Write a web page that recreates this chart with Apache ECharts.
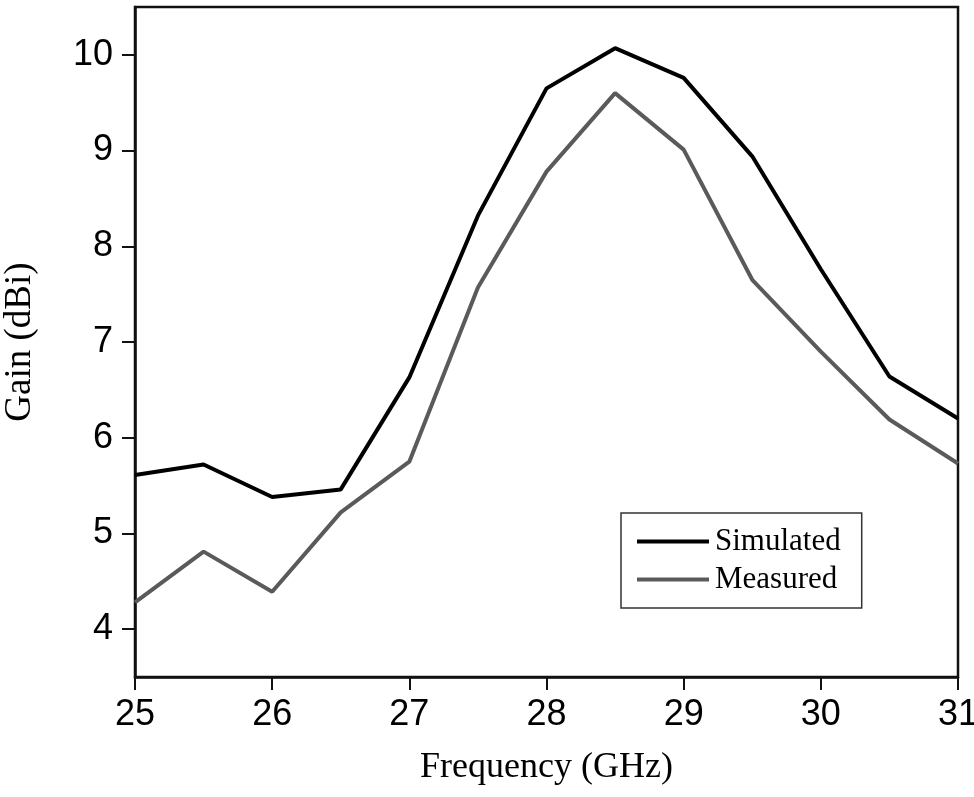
<!DOCTYPE html>
<html>
<head>
<meta charset="utf-8">
<script src="https://cdn.jsdelivr.net/npm/echarts@6/dist/echarts.min.js"></script>
<style>html,body{margin:0;padding:0;background:#fff;}#c{width:974px;height:797px;}</style>
</head>
<body>
<div id="c"></div>
<script>
const frequency = [25, 25.5, 26, 26.5, 27, 27.5, 28, 28.5, 29, 29.5, 30, 30.5, 31];
const simulated = [5.61, 5.72, 5.38, 5.46, 6.63, 8.32, 9.65, 10.07, 9.76, 8.94, 7.76, 6.64, 6.20];
const measured = [4.28, 4.81, 4.39, 5.22, 5.75, 7.57, 8.78, 9.60, 9.01, 7.65, 6.90, 6.19, 5.73];
const yTicks = [4, 5, 6, 7, 8, 9, 10];
const xTicks = [25, 26, 27, 28, 29, 30, 31];
const seriesNames = ['Simulated', 'Measured'];
const xTitle = 'Frequency (GHz)';
const yTitle = 'Gain (dBi)';

const chart = echarts.init(document.getElementById('c'), null, {renderer: 'canvas'});
const tickFont = {fontFamily: 'Liberation Sans', fontSize: 36, color: '#000'};
const serifFont = 'Liberation Serif';
chart.setOption({
  animation: false,
  backgroundColor: '#fff',
  grid: {left: 135, right: 16, top: 7, bottom: 120, containLabel: false, outerBoundsMode: 'none',
         show: true, borderColor: '#111', borderWidth: 2.5, backgroundColor: 'transparent'},
  legend: {
    left: 621, top: 513,
    orient: 'vertical',
    data: seriesNames.map(n => ({name: n})),
    icon: 'rect',
    itemWidth: 72, itemHeight: 4,
    itemGap: 7,
    padding: [13, 21, 13, 16],
    borderColor: '#333', borderWidth: 1.5, borderRadius: 0,
    backgroundColor: '#fff',
    textStyle: {fontFamily: serifFont, fontSize: 31, color: '#000', padding: [0, 0, 0, 1]}
  },
  xAxis: {
    type: 'value', min: 25, max: 31, interval: 1,
    name: xTitle, nameLocation: 'middle', nameGap: 73,
    nameTextStyle: {fontFamily: serifFont, fontSize: 36, color: '#000'},
    axisLine: {show: true, lineStyle: {color: '#111', width: 2.5}},
    axisTick: {show: true, inside: false, length: 13, lineStyle: {color: '#111', width: 2}, customValues: xTicks},
    axisLabel: {...tickFont, margin: 20, customValues: xTicks},
    splitLine: {show: false}
  },
  yAxis: {
    type: 'value', min: 3.5, max: 10.5,
    name: yTitle, nameLocation: 'middle', nameGap: 96, nameRotate: 90,
    nameTextStyle: {fontFamily: serifFont, fontSize: 37, color: '#000'},
    axisLine: {show: true, lineStyle: {color: '#111', width: 2.5}},
    axisTick: {show: true, inside: false, length: 13, lineStyle: {color: '#111', width: 2}, customValues: yTicks},
    axisLabel: {...tickFont, margin: 22, customValues: yTicks},
    splitLine: {show: false}
  },
  series: [
    {name: seriesNames[0], type: 'line', data: frequency.map((f, i) => [f, simulated[i]]),
     showSymbol: false, symbol: 'none', lineStyle: {color: '#000', width: 4}, itemStyle: {color: '#000'}, z: 3},
    {name: seriesNames[1], type: 'line', data: frequency.map((f, i) => [f, measured[i]]),
     showSymbol: false, symbol: 'none', lineStyle: {color: '#5a5a5a', width: 4}, itemStyle: {color: '#5a5a5a'}, z: 2}
  ]
});
</script>
</body>
</html>
